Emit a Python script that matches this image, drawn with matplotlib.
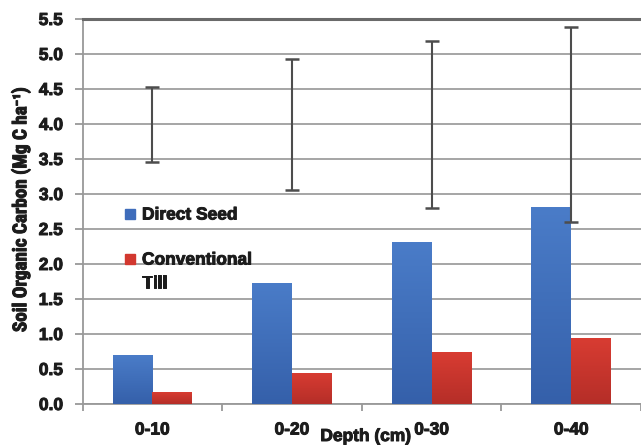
import matplotlib
matplotlib.use("Agg")
import matplotlib.pyplot as plt
import numpy as np
from matplotlib.patches import Rectangle
from matplotlib.colors import LinearSegmentedColormap
from matplotlib import font_manager
import matplotlib.patheffects as pe

categories = ["0-10", "0-20", "0-30", "0-40"]
direct_seed = [0.70, 1.73, 2.31, 2.81]
conventional_till = [0.17, 0.45, 0.74, 0.94]
err_low = [3.46, 3.06, 2.80, 2.60]
err_high = [4.53, 4.93, 5.19, 5.39]
yticks = [0.0, 0.5, 1.0, 1.5, 2.0, 2.5, 3.0, 3.5, 4.0, 4.5, 5.0, 5.5]

plt.rcParams['font.family'] = ['Liberation Sans', 'DejaVu Sans']
plt.rcParams['font.weight'] = 'bold'
TXT = "#1c1c1c"
STROKE = [pe.withStroke(linewidth=0.7, foreground=TXT)]

# pick a condensed family for the y label if one is installed
narrow = None
for fam in ['Liberation Sans Narrow', 'Roboto Condensed', 'DejaVu Sans Condensed']:
    try:
        font_manager.findfont(font_manager.FontProperties(family=fam, weight='bold'),
                              fallback_to_default=False)
        narrow = fam
        break
    except Exception:
        pass
if narrow:
    ylab_family = [narrow, 'DejaVu Sans']
    ylab_size = 13.8
else:
    ylab_family = ['Liberation Sans', 'DejaVu Sans']
    ylab_size = 11.3

BLUE = "#3f6dbb"
RED = "#d2382f"
blue_cmap = LinearSegmentedColormap.from_list("b", ["#3560aa", "#4a7cc8"])
red_cmap = LinearSegmentedColormap.from_list("r", ["#b52e28", "#d83c32"])

fig = plt.figure(figsize=(6.41, 4.45), dpi=100)
ax = fig.add_axes([82.5 / 641, 41 / 445, 1 - 82.5 / 641, 385 / 445])

x = np.arange(len(categories))
w = 0.285
b1 = ax.bar(x - w / 2, direct_seed, w, color=BLUE, zorder=3)
b2 = ax.bar(x + w / 2, conventional_till, w, color=RED, zorder=3)

grad = np.linspace(0, 1, 100).reshape(-1, 1)
for bars, cmap in [(b1, blue_cmap), (b2, red_cmap)]:
    for p in bars:
        x0, y0 = p.get_x(), p.get_y()
        im = ax.imshow(grad, cmap=cmap, aspect='auto', origin='lower',
                       extent=[x0, x0 + p.get_width(), y0, y0 + p.get_height()],
                       zorder=3.5)
        im.set_clip_path(p)

lo = np.array(err_low)
hi = np.array(err_high)
mid = (lo + hi) / 2
ax.errorbar(x, mid, yerr=(hi - lo) / 2, fmt='none', ecolor="#4d4d4d",
            elinewidth=1.5, capsize=5, capthick=1.8, zorder=4)

ax.set_xlim(-0.5, 3.44)
ax.set_ylim(0, 5.5)
ax.set_yticks(yticks)
ax.set_yticklabels([f"{v:.1f}" for v in yticks], fontsize=12.5, fontweight='bold',
                   color=TXT, path_effects=STROKE)
ax.yaxis.grid(True, color="#a5a5a5", linewidth=1.4, zorder=0)
ax.set_axisbelow(True)

ax.set_xticks(x)
ax.set_xticklabels(categories, fontsize=12.5, fontweight='bold', color=TXT,
                   path_effects=STROKE)
ax.set_xticks(np.arange(-0.5, 4, 1.0), minor=True)
ax.tick_params(axis='x', which='major', length=0, pad=13.3)
ax.tick_params(axis='x', which='minor', length=5, width=1.3, color="#999999")
ax.tick_params(axis='y', length=6, width=1.3, color="#999999", pad=8)

ax.spines['right'].set_visible(False)
ax.spines['top'].set_color("#6a6a6a")
ax.spines['top'].set_linewidth(2.2)
ax.spines['left'].set_color("#999999")
ax.spines['left'].set_linewidth(1.3)
ax.spines['bottom'].set_color("#999999")
ax.spines['bottom'].set_linewidth(1.3)

fig.text(21 / 641, 1 - 210 / 445, "Soil Organic Carbon (Mg C ha\u207b\u00b9)",
         rotation=90, ha='center', va='center', fontsize=ylab_size, fontweight='bold',
         family=ylab_family, color=TXT, path_effects=STROKE)
fig.text(366 / 641, 1 - 429 / 445, "Depth (cm)", ha='center', va='top',
         fontsize=12.5, fontweight='bold', color=TXT, path_effects=STROKE)

# legend
for yy, col in [(213.5, BLUE), (259, RED)]:
    fig.patches.append(Rectangle((125 / 641, 1 - (yy + 5) / 445), 10 / 641, 10 / 445,
                                 transform=fig.transFigure, color=col, zorder=5))
for yy, t in [(213.5, "Direct Seed"), (258.5, "Conventional"), (281.5, "Till")]:
    fig.text(142 / 641, 1 - yy / 445, t, fontsize=12.5, fontweight='bold',
             va='center_baseline', ha='left', color=TXT, path_effects=STROKE)

fig.savefig("out.png", dpi=100)
